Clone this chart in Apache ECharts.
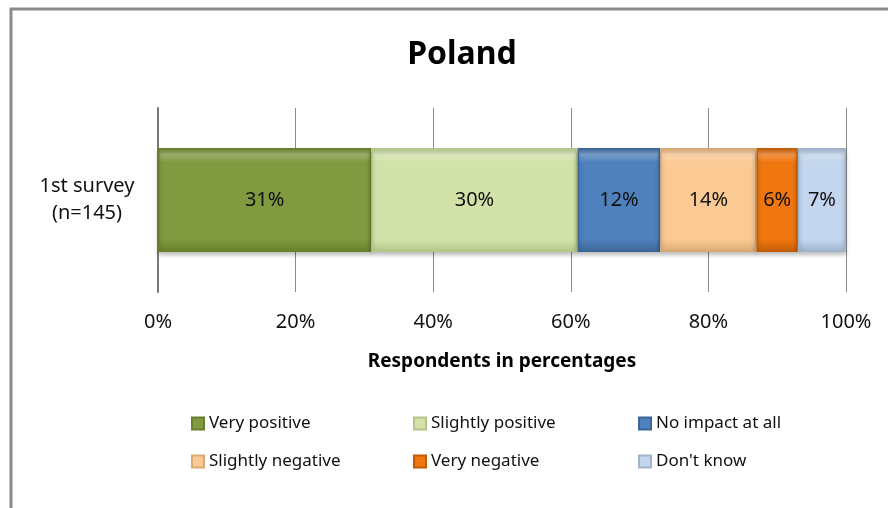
<!DOCTYPE html>
<html>
<head>
<meta charset="utf-8">
<script src="https://cdn.jsdelivr.net/npm/echarts@6/dist/echarts.min.js"></script>
<style>
  html, body { margin: 0; padding: 0; background: #fff; }
  #chart { width: 888px; height: 508px; }
</style>
</head>
<body>
<div id="chart"></div>
<script>
// data
const categories = ['1st survey\n(n=145)'];
const answerNames = ['Very positive', 'Slightly positive', 'No impact at all',
  'Slightly negative', 'Very negative', "Don't know"];
const answerValues = [31, 30, 12, 14, 6, 7];
const answerColors = ['#7f9a3f', '#d2e2a9', '#4f81bd', '#fbc994', '#f0760f', '#c3d6ee'];
const edgeColors = ['#66802c', '#b4c68a', '#3c6698', '#d9a974', '#c25d07', '#9fb3cc'];

const font = '"Noto Sans", "Open Sans", sans-serif';

// bevel-ish fill: lighter top, darker bottom
function bevel(c, e) {
  return new echarts.graphic.LinearGradient(0, 0, 0, 1, [
    { offset: 0, color: e },
    { offset: 0.06, color: echarts.color.lift(c, 0.25) },
    { offset: 0.14, color: c },
    { offset: 0.88, color: c },
    { offset: 1, color: e }
  ]);
}

const series = answerNames.map((name, i) => ({
  name: name,
  type: 'bar',
  stack: 'all',
  barWidth: 104,
  data: [answerValues[i]],
  itemStyle: {
    color: bevel(answerColors[i], edgeColors[i]),
    borderColor: edgeColors[i],
    borderWidth: 1.5,
    shadowColor: 'rgba(0,0,0,0.25)',
    shadowBlur: 4,
    shadowOffsetY: 3
  },
  label: {
    show: true,
    position: 'inside',
    formatter: '{c}%',
    color: '#111',
    fontFamily: font,
    fontSize: 20
  }
}));

// legend laid out as three columns of two rows
const legendCols = [
  { names: [answerNames[0], answerNames[3]], left: 186 },
  { names: [answerNames[1], answerNames[4]], left: 408 },
  { names: [answerNames[2], answerNames[5]], left: 633 }
];
const legends = legendCols.map(col => ({
  data: col.names,
  orient: 'vertical',
  left: col.left,
  top: 410,
  itemGap: 21,
  itemWidth: 12,
  itemHeight: 12,
  icon: 'rect',
  textStyle: { fontFamily: font, fontSize: 17, color: '#111' }
}));

const chart = echarts.init(document.getElementById('chart'));
chart.setOption({
  animation: false,
  title: {
    text: 'Poland',
    left: 457,
    textAlign: 'center',
    top: 34,
    textStyle: { fontFamily: font, fontSize: 32, fontWeight: 'bold', color: '#000' }
  },
  legend: legends,
  grid: { left: 158, right: 42, top: 108, bottom: 216, containLabel: false },
  xAxis: {
    type: 'value',
    min: 0,
    max: 100,
    interval: 20,
    axisLine: { show: false },
    axisTick: { show: false },
    splitLine: { show: true, lineStyle: { color: '#8a8a8a', width: 1 } },
    axisLabel: {
      formatter: '{value}%',
      margin: 20,
      fontFamily: font,
      fontSize: 20,
      color: '#111'
    },
    name: 'Respondents in percentages',
    nameLocation: 'middle',
    nameGap: 60,
    nameTextStyle: { fontFamily: font, fontSize: 19, fontWeight: 'bold', color: '#000' }
  },
  yAxis: {
    type: 'category',
    data: categories,
    axisLine: { show: true, lineStyle: { color: '#7a7a7a', width: 2 } },
    axisTick: { show: false },
    axisLabel: {
      align: 'center',
      margin: 71,
      fontFamily: font,
      fontSize: 20,
      lineHeight: 27,
      color: '#111'
    }
  },
  graphic: [
    { type: 'line', shape: { x1: 11, y1: 8, x2: 11, y2: 508 }, style: { stroke: '#8a8a8a', lineWidth: 3 } },
    { type: 'line', shape: { x1: 10, y1: 9, x2: 888, y2: 9 }, style: { stroke: '#8a8a8a', lineWidth: 3 } }
  ],
  series: series
});
</script>
</body>
</html>
